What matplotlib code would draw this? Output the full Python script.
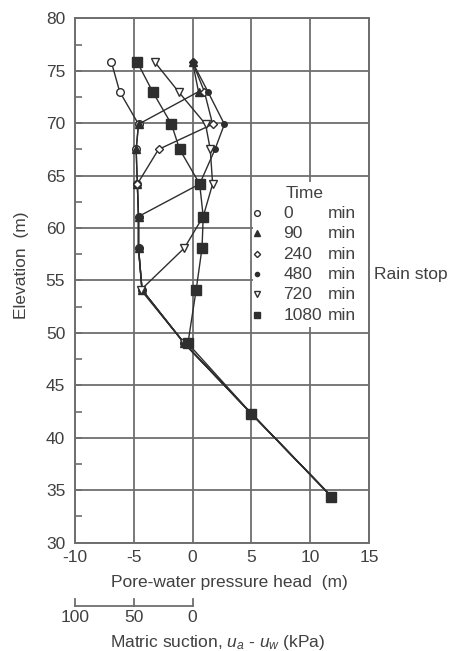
import numpy as np
import matplotlib
matplotlib.use("Agg")
import matplotlib.pyplot as plt
from matplotlib.patches import Rectangle
from matplotlib.ticker import MultipleLocator

plt.rcParams["font.family"] = ["Liberation Sans", "DejaVu Sans"]
plt.rcParams["mathtext.fontset"] = "custom"
plt.rcParams["mathtext.rm"] = "Liberation Sans"
plt.rcParams["mathtext.it"] = "Liberation Sans:italic"

# piezometer elevations (m) and pore-water pressure head (m) at each time
elev = [75.8, 73.0, 69.9, 67.5, 64.2, 61.1, 58.1, 54.1, 49.0, 42.3, 34.4]
head_0 = [-6.9, -6.2, -4.6, -4.8, -4.7, -4.6, -4.6, -4.3, -0.7, 5.0, 11.8]
head_90 = [0.0, 0.5, -4.6, -4.8, -4.7, -4.6, -4.6, -4.3, -0.7, 5.0, 11.8]
head_240 = [0.0, 1.0, 1.7, -2.9, -4.7, -4.6, -4.6, -4.3, -0.7, 5.0, 11.8]
head_480 = [0.0, 1.3, 2.7, 1.9, 0.6, -4.6, -4.6, -4.3, -0.7, 5.0, 11.8]
head_720 = [-3.2, -1.2, 1.1, 1.5, 1.7, 0.9, -0.7, -4.4, -0.7, 5.0, 11.8]
head_1080 = [-4.7, -3.4, -1.8, -1.1, 0.6, 0.9, 0.8, 0.3, -0.4, 5.0, 11.8]

times = ["0", "90", "240", "480", "720", "1080"]
suction_ticks = [100, 50, 0]   # kPa, 10 kPa per metre of head

ink = "#2e2e2e"
grey = "#6e6e6e"
txt = "#404040"
fs = 12.5

series = [
    (head_0, dict(marker="o", ms=5.5, mfc="white")),
    (head_90, dict(marker="^", ms=5.5, mfc=ink)),
    (head_240, dict(marker="D", ms=4.2, mfc="white")),
    (head_480, dict(marker="o", ms=4, mfc=ink)),
    (head_720, dict(marker="v", ms=5.5, mfc="white")),
    (head_1080, dict(marker="s", ms=6.5, mfc=ink)),
]

fig = plt.figure(figsize=(4.49, 6.51), dpi=100)
ax = fig.add_axes([0.167, 0.1664, 0.655, 0.8055])

for h, st in series:
    ax.plot(h, elev, color=ink, lw=1.0, mec=ink, mew=1.0, zorder=3, **st)

ax.set_xlim(-10, 15)
ax.set_ylim(30, 80)
ax.xaxis.set_major_locator(MultipleLocator(5))
ax.yaxis.set_major_locator(MultipleLocator(5))
ax.yaxis.set_minor_locator(MultipleLocator(2.5))
ax.grid(True, which="major", color=grey, lw=1.3, zorder=0)
ax.set_axisbelow(True)
for s in ax.spines.values():
    s.set_color(grey)
    s.set_linewidth(1.4)
ax.tick_params(axis="y", which="both", direction="in", length=5, width=1.2,
               color=grey, labelsize=fs, labelcolor=txt, pad=7)
ax.tick_params(axis="x", which="both", length=0, labelsize=fs,
               labelcolor=txt, pad=5)
ax.set_xticks([-10, -5, 0, 5, 10, 15])
ax.set_xticklabels(["-10", "-5", "0", "5", "10", "15"])

# key, drawn on a white panel over the grid
ax.add_patch(Rectangle((5.15, 50.6), 9.75, 13.8, fc="white", ec="none", zorder=1))
ax.text(7.9, 63.3, "Time", fontsize=fs, color=txt, va="center", zorder=4)
key_y = [61.4, 59.5, 57.5, 55.6, 53.7, 51.7]
for (h, st), t, yk in zip(series, times, key_y):
    kst = dict(st)
    kst["ms"] = st["ms"] * 0.75
    ax.plot([5.5], [yk], color=ink, mec=ink, mew=1.0, ls="none", zorder=4, **kst)
    ax.text(7.7, yk, t, fontsize=fs, color=txt, va="center", zorder=4)
    ax.text(11.5, yk, "min", fontsize=fs, color=txt, va="center", zorder=4)
ax.text(15.4, key_y[3], "Rain stop", fontsize=fs, color=txt, va="center",
        clip_on=False)

fig.text(22 / 449, 1 - 265 / 651, "Elevation  (m)", rotation=90, fontsize=fs,
         color=txt, ha="center", va="center")
fig.text(229 / 449, 1 - 583 / 651, "Pore-water pressure head  (m)", fontsize=fs,
         color=txt, ha="center", va="center")

# matric suction scale under the negative part of the head axis
trans = ax.get_xaxis_transform()
y0, y1 = -0.1216, -0.108
sx = [-s / 10 for s in suction_ticks]
ax.plot([min(sx), max(sx)], [y0, y0], color=grey, lw=1.3, transform=trans,
        clip_on=False)
for x, s in zip(sx, suction_ticks):
    ax.plot([x, x], [y0, y1], color=grey, lw=1.3, transform=trans, clip_on=False)
    ax.text(x, -0.143, str(s), fontsize=fs, color=txt, ha="center",
            va="center", transform=trans)
fig.text(218 / 449, 1 - 642 / 651, r"Matric suction, $u_a$ - $u_w$ (kPa)",
         fontsize=fs, color=txt, ha="center", va="center")

fig.savefig("out.png", dpi=100)
